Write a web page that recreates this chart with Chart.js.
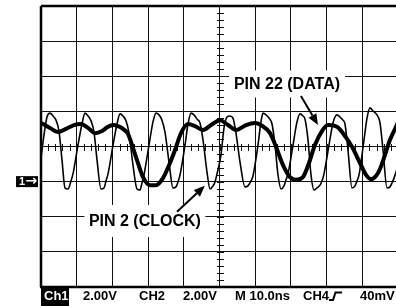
<!DOCTYPE html>
<html><head><meta charset="utf-8">
<script src="https://cdn.jsdelivr.net/npm/chart.js@4"></script>
<style>html,body{margin:0;padding:0;background:#fff;overflow:hidden;width:396px;height:306px}canvas{display:block}</style>
</head><body>
<canvas id="c" width="404" height="306"></canvas>
<script>
// Time in ns (10 ns/div), level in divisions from screen centre
const clockTime = [0,0.84,1.68,2.52,3.36,4.20,5.04,5.88,6.72,7.56,8.40,8.96,10.36,11.48,12.32,13.17,14.01,14.85,15.69,16.81,17.65,18.21,18.77,20.17,21.29,22.13,22.97,23.81,24.65,25.77,26.89,27.73,28.29,28.85,30.25,31.37,32.21,33.05,33.89,34.73,35.85,36.97,37.82,38.38,38.94,40.34,41.18,42.02,42.86,43.70,44.54,45.38,46.50,47.34,48.18,48.74,49.30,50.42,51.26,52.10,52.94,53.78,54.62,55.74,57.14,57.98,58.82,59.38,60.78,61.62,62.18,63.03,63.87,64.71,65.55,66.39,67.23,68.07,68.63,69.19,70.59,71.71,72.55,73.39,73.95,74.79,75.63,76.47,77.31,78.15,78.71,79.27,80.67,81.79,82.91,83.75,84.59,85.15,85.99,87.11,87.96,88.52,89.08,90.48,91.32,92.16,93.00,94.12,94.96,95.80,96.92,97.76,98.32,98.88,100];
const clockLevel = [-0.33,0.33,0.84,0.95,0.87,0.75,0.44,-0.38,-1.18,-1.21,-0.98,-0.78,0.04,0.64,0.95,0.87,0.73,0.41,-0.38,-1.21,-1.18,-0.98,-0.78,0.04,0.64,0.93,0.87,0.73,0.38,-0.53,-1.21,-1.24,-1.04,-0.81,0.04,0.70,0.95,0.90,0.75,0.41,-0.44,-1.18,-1.15,-1.01,-0.81,0.04,0.64,0.95,0.90,0.78,0.67,0.19,-0.73,-1.21,-1.12,-1.01,-0.78,-0.24,0.53,0.84,0.87,0.81,0.38,-0.44,-1.15,-1.12,-0.98,-0.84,0.04,0.70,0.95,0.90,0.81,0.64,0.04,-0.81,-1.21,-1.12,-0.95,-0.78,0.04,0.70,0.93,0.87,0.78,0.19,-0.81,-1.24,-1.18,-1.10,-0.98,-0.78,0.04,0.67,0.90,0.84,0.75,0.64,-0.10,-1.18,-1.12,-0.98,-0.81,0.19,0.81,1.10,1.01,0.90,0.67,-0.10,-1.18,-1.15,-1.04,-0.90,-0.55];
const dataTime = [0,2.52,4.76,7.00,9.24,11.20,13.17,15.13,17.09,18.77,20.17,21.57,22.97,24.37,25.21,26.61,28.57,30.53,32.21,34.17,36.13,37.54,39.22,41.18,43.14,45.38,47.62,50.14,52.38,54.62,57.42,59.94,61.62,64.15,65.83,67.79,69.75,71.43,73.39,75.07,76.75,78.71,80.39,82.91,84.59,87.11,89.36,91.04,92.44,93.84,94.96,96.36,97.76,99.44,100];
const dataLevel = [0.67,0.53,0.41,0.50,0.61,0.64,0.53,0.38,0.44,0.56,0.61,0.58,0.50,0.36,0.13,-0.30,-0.87,-1.10,-1.10,-0.90,-0.47,-0.10,0.38,0.64,0.58,0.47,0.61,0.75,0.61,0.47,0.61,0.67,0.61,0.38,-0.01,-0.53,-0.87,-0.95,-0.87,-0.47,0.05,0.44,0.61,0.56,0.38,-0.01,-0.47,-0.81,-0.93,-0.84,-0.64,-0.24,0.19,0.56,0.70];
const timeRange = [0, 100];     // ns, 10 divisions
const levelRange = [-4, 4];     // divisions
const majorStep = [10, 1];
const minorStep = [2, 0.2];
const statusLabels = ["2.00V", "CH2", "2.00V", "M 10.0ns", "CH4", "40mV"];
const statusX = [83, 139, 183, 235, 303, 360];

const clockPts = clockTime.map((t,i)=>({x:t,y:clockLevel[i]}));
const dataPts = dataTime.map((t,i)=>({x:t,y:dataLevel[i]}));

const FONT = 'bold 16px "Liberation Sans", Arial, sans-serif';

const decor = {
  id: 'decor',
  beforeDatasetsDraw(chart){
    const {ctx, scales:{x,y}} = chart;
    const cx = Math.round(x.getPixelForValue((timeRange[0]+timeRange[1])/2));
    const cy = Math.round(y.getPixelForValue(0));
    ctx.save();
    ctx.strokeStyle = '#111'; ctx.lineWidth = 1;
    ctx.beginPath();
    for (let v = timeRange[0]; v <= timeRange[1]+1e-6; v += minorStep[0]) {
      const px = Math.round(x.getPixelForValue(v)) + 0.5;
      ctx.moveTo(px, cy-3); ctx.lineTo(px, cy+4);
    }
    for (let v = levelRange[0]; v <= levelRange[1]+1e-6; v += minorStep[1]) {
      const py = Math.round(y.getPixelForValue(v)) + 0.5;
      ctx.moveTo(cx-3, py); ctx.lineTo(cx+4, py);
    }
    ctx.stroke();
    ctx.restore();
  },
  afterDatasetsDraw(chart){
    const {ctx, scales:{x,y}} = chart;
    function label(text, t, d, hw, hh){
      const px = x.getPixelForValue(t), py = y.getPixelForValue(d);
      ctx.fillStyle = '#fff';
      ctx.fillRect(px-hw, py-hh, hw*2, hh*2);
      ctx.fillStyle = '#000';
      ctx.font = FONT; ctx.textAlign = 'center'; ctx.textBaseline = 'middle';
      ctx.fillText(text, px, py+1);
    }
    function arrow(t0,d0,t1,d1){
      const x0 = x.getPixelForValue(t0), y0 = y.getPixelForValue(d0);
      const x1 = x.getPixelForValue(t1), y1 = y.getPixelForValue(d1);
      const a = Math.atan2(y1-y0, x1-x0);
      const L = 11, W = 4.5;
      const bx = x1 - L*Math.cos(a), by = y1 - L*Math.sin(a);
      ctx.strokeStyle = '#000'; ctx.lineWidth = 2;
      ctx.beginPath(); ctx.moveTo(x0,y0); ctx.lineTo(bx,by); ctx.stroke();
      ctx.fillStyle = '#000';
      ctx.beginPath();
      ctx.moveTo(x1,y1);
      ctx.lineTo(bx + W*Math.sin(a), by - W*Math.cos(a));
      ctx.lineTo(bx - W*Math.sin(a), by + W*Math.cos(a));
      ctx.closePath(); ctx.fill();
    }
    ctx.save();
    label('PIN 22 (DATA)', 68.9, 1.78, 58, 13.5);
    arrow(72.8, 1.44, 77.6, 0.61);
    label('PIN 2 (CLOCK)', 29.1, -2.12, 60.5, 16);
    arrow(38.1, -1.86, 45.9, -1.12);
    ctx.restore();
  },
  afterDraw(chart){
    const {ctx, chartArea:a, scales:{y}} = chart;
    ctx.save();
    ctx.strokeStyle = '#000'; ctx.lineWidth = 2.5;
    ctx.beginPath();
    ctx.moveTo(a.left, a.top); ctx.lineTo(chart.width, a.top);
    ctx.moveTo(a.left, a.top); ctx.lineTo(a.left, a.bottom);
    ctx.moveTo(a.left-1, a.bottom); ctx.lineTo(chart.width, a.bottom);
    ctx.stroke();
    // ground marker
    const gy = y.getPixelForValue(-1);
    ctx.fillStyle = '#000';
    ctx.fillRect(a.left-25, gy-5.5, 22, 11);
    ctx.fillStyle = '#fff';
    ctx.textBaseline = 'middle'; ctx.textAlign = 'left';
    ctx.font = 'bold 11px "Liberation Sans", sans-serif';
    ctx.fillText('1', a.left-22, gy+0.5);
    ctx.font = 'bold 14px "DejaVu Sans", sans-serif';
    ctx.fillText('\u2192', a.left-15.5, gy);
    // status line
    const sy = a.bottom + 9.5;
    ctx.fillStyle = '#000';
    ctx.fillRect(a.left, a.bottom+1, 28, 18);
    ctx.fillStyle = '#fff';
    ctx.font = 'bold 13px "Liberation Sans", Arial, sans-serif';
    ctx.textAlign = 'left';
    ctx.fillText('Ch1', a.left+3, sy);
    ctx.fillStyle = '#000';
    statusLabels.forEach((s,i)=>ctx.fillText(s, statusX[i], sy));
    ctx.lineWidth = 2;
    ctx.beginPath();
    ctx.moveTo(329, sy+3.5); ctx.lineTo(333, sy+3.5); ctx.lineTo(335.5, sy-4); ctx.lineTo(342, sy-4);
    ctx.stroke();
    ctx.restore();
  }
};

new Chart(document.getElementById('c'), {
  type: 'line',
  data: { datasets: [
    { data: clockPts, borderColor: '#000', borderWidth: 1.6, pointRadius: 0, cubicInterpolationMode: 'monotone', fill: false },
    { data: dataPts, borderColor: '#000', borderWidth: 4, pointRadius: 0, cubicInterpolationMode: 'monotone', fill: false }
  ]},
  options: {
    responsive: false, animation: false, devicePixelRatio: 1,
    layout: { padding: { left: 41, top: 6, right: 6, bottom: 19 } },
    plugins: { legend: { display: false }, tooltip: { enabled: false } },
    scales: {
      x: { type: 'linear', min: timeRange[0], max: timeRange[1],
           ticks: { display: false, stepSize: majorStep[0] },
           grid: { color: '#111', lineWidth: 1, drawTicks: false },
           border: { display: false } },
      y: { type: 'linear', min: levelRange[0], max: levelRange[1],
           ticks: { display: false, stepSize: majorStep[1] },
           grid: { color: '#111', lineWidth: 1, drawTicks: false },
           border: { display: false } }
    }
  },
  plugins: [decor]
});
</script>
</body></html>
